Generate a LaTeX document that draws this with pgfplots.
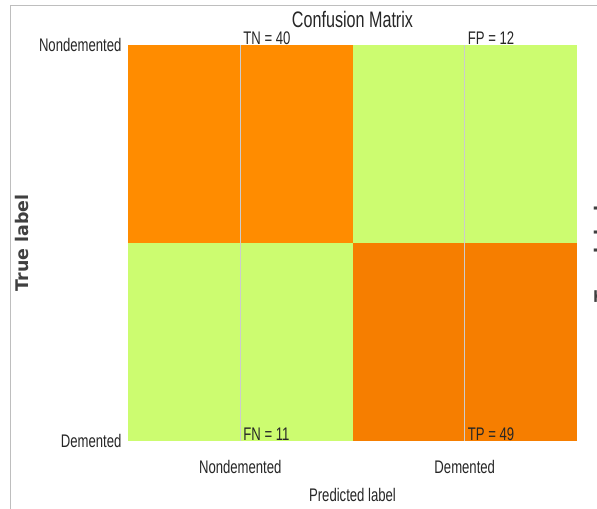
\documentclass[border=0pt]{standalone}
\usepackage{fontspec}
\setmainfont{Liberation Sans}
\newfontfamily\cond[FakeStretch=0.72]{Liberation Sans}
\newfontfamily\wide{DejaVu Sans}
\usepackage{pgfplots}
\pgfplotsset{compat=1.18}
\definecolor{cTN}{RGB}{255,140,0}
\definecolor{cTP}{RGB}{246,126,0}
\definecolor{cG}{RGB}{204,252,112}
\definecolor{frm}{RGB}{190,190,190}
\begin{document}
\begin{tikzpicture}[x=1bp,y=1bp]
\begin{axis}[
  at={(128bp,68bp)}, anchor=south west, scale only axis,
  width=449bp, height=396bp,
  xmin=-0.5, xmax=1.5, ymin=0, ymax=1,
  clip=false,
  xtick={0,1}, xticklabels={Nondemented,Demented},
  ytick={0,1}, yticklabels={Demented,Nondemented},
  major tick length=0pt,
  axis line style={draw=none},
  xmajorgrids, grid style={line width=1.2bp, color=gray!40},
  axis on top,
  tick label style={font=\cond\fontsize{18.3}{20}\selectfont, text=black!85},
  xticklabel style={anchor=base, yshift=-33bp},
  yticklabel style={xshift=-3bp},
  title={Confusion Matrix},
  title style={at={(axis description cs:0.5,1.05)}, anchor=center, font=\cond\fontsize{22.5}{24}\selectfont, text=black!85},
  xlabel={Predicted label},
  xlabel style={at={(axis description cs:0.5,-0.136)}, anchor=center, font=\cond\fontsize{18.3}{20}\selectfont, text=black!85},
  ylabel={True label},
  ylabel style={at={(axis description cs:-0.236,0.5)}, anchor=center, font=\wide\bfseries\fontsize{17.5}{19}\selectfont, text=black!75},
]
% TN (true Nondemented, predicted Nondemented) = 40
\addplot[fill=cTN, draw=none] coordinates {(-0.5,0.5) (0.5,0.5) (0.5,1) (-0.5,1)};
% FP (true Nondemented, predicted Demented) = 12
\addplot[fill=cG, draw=none] coordinates {(0.5,0.5) (1.5,0.5) (1.5,1) (0.5,1)};
% FN (true Demented, predicted Nondemented) = 11
\addplot[fill=cG, draw=none] coordinates {(-0.5,0) (0.5,0) (0.5,0.5) (-0.5,0.5)};
% TP (true Demented, predicted Demented) = 49
\addplot[fill=cTP, draw=none] coordinates {(0.5,0) (1.5,0) (1.5,0.5) (0.5,0.5)};
\begin{scope}[every node/.style={anchor=base west, inner sep=0pt, xshift=3bp, font=\cond\fontsize{18.3}{20}\selectfont, text=black!85}]
\node at (axis cs:0,1) {TN = 40};
\node at (axis cs:1,1) {FP = 12};
\node at (axis cs:0,0) {FN = 11};
\node at (axis cs:1,0) {TP = 49};
\end{scope}
\end{axis}
\draw[frm, line width=1bp] (10,0) -- (10,503) -- (600,503);
\node[rotate=90, font=\wide\bfseries\fontsize{17.5}{19}\selectfont, text=black!75] at (601,255) {True label};
\pgfresetboundingbox
\path (0,0) rectangle (597,509);
\end{tikzpicture}
\end{document}
